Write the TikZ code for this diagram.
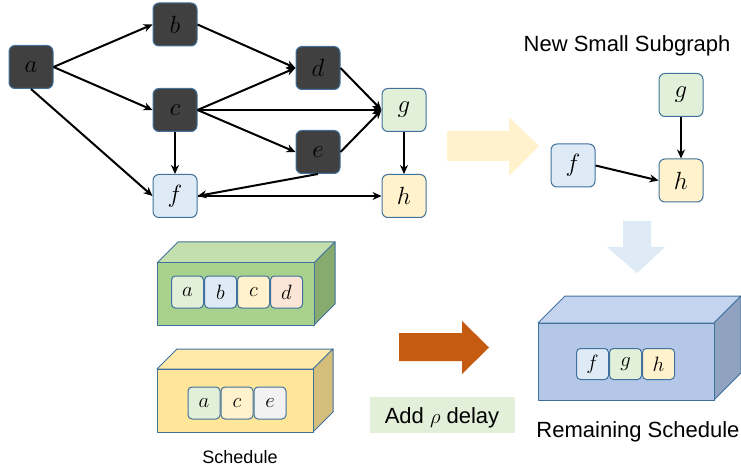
\documentclass[tikz,border=0pt]{standalone}
\usepackage{fontspec}
\setmainfont{Liberation Sans}
\DeclareSymbolFont{letters}{OML}{lmm}{m}{it}
\usetikzlibrary{arrows.meta,positioning}
\definecolor{bord}{HTML}{41719C}
\definecolor{dark}{HTML}{404040}
\definecolor{lblue}{HTML}{DEEBF7}
\definecolor{lgreen}{HTML}{E2F0D9}
\definecolor{lyellow}{HTML}{FFF2CC}
\definecolor{lorange}{HTML}{FBE5D6}
\definecolor{lgray}{HTML}{F2F2F2}
\definecolor{gfront}{HTML}{A9D18E}
\definecolor{gtop}{HTML}{C3DFAE}
\definecolor{gside}{HTML}{87AB6F}
\definecolor{yfront}{HTML}{FFE699}
\definecolor{ytop}{HTML}{FFEAAA}
\definecolor{yside}{HTML}{D4BE7C}
\definecolor{bfront}{HTML}{B4C7E7}
\definecolor{btop}{HTML}{C4D4EE}
\definecolor{bside}{HTML}{8FA2C0}
\definecolor{orarrow}{HTML}{C55A11}
\tikzset{
  gnode/.style={draw=bord, line width=1pt, rounded corners=6pt, minimum width=44pt, minimum height=43pt, inner sep=0pt, font=\fontsize{23}{23}\selectfont},
  darknode/.style={gnode, fill=dark},
  cell/.style={draw=bord, line width=1pt, rounded corners=4pt, minimum width=32pt, minimum height=32pt, inner sep=0pt, font=\fontsize{20}{20}\selectfont},
  edge/.style={line width=2pt, -{Stealth[length=9pt,width=8pt]}},
  boxline/.style={draw=bord, line width=1pt, line join=round},
  biglabel/.style={font=\fontsize{22}{26}\selectfont, inner sep=0pt, anchor=base}
}
\begin{document}
\begin{tikzpicture}[x=1pt,y=-1pt]
\useasboundingbox (0,0) rectangle (741,470);
% main graph
\node[darknode] (a) at (31,67) {$a$};
\node[darknode] (b) at (175,24.5) {$b$};
\node[darknode] (c) at (175,110) {$c$};
\node[darknode] (d) at (318,68) {$d$};
\node[darknode] (e) at (318,152) {$e$};
\node[gnode, fill=lblue] (f) at (175,196) {$f$};
\node[gnode, fill=lgreen] (g) at (404,110) {$g$};
\node[gnode, fill=lyellow] (h) at (404,196) {$h$};
\draw[edge] (a.east) -- (b.west);
\draw[edge] (a.east) -- (c.west);
\draw[edge] (a.south) -- (f.west);
\draw[edge] (b.east) -- (d.west);
\draw[edge] (c.east) -- (d.west);
\draw[edge] (c.east) -- (g.west);
\draw[edge] (c.east) -- (e.west);
\draw[edge] (c.south) -- (f.north);
\draw[edge] (d.east) -- (g.west);
\draw[edge] (e.east) -- (g.west);
\draw[edge] (e.south) -- (f.east);
\draw[edge] (f.east) -- (h.west);
\draw[edge] (g.south) -- (h.north);
% yellow block arrow
\fill[lyellow] (447,131) -- (509,131) -- (509,117) -- (539,146) -- (509,176) -- (509,161) -- (447,161) -- cycle;
% new subgraph
\node[biglabel] (t1) at (627,52) {New Small Subgraph};
\node[gnode, fill=lgreen] (g2) at (681,95) {$g$};
\node[gnode, fill=lblue] (f2) at (573,165.5) {$f$};
\node[gnode, fill=lyellow] (h2) at (681,180.5) {$h$};
\draw[edge] (g2.south) -- (h2.north);
\draw[edge] (f2.east) -- (h2.west);
% blue down arrow
\fill[lblue] (623,221) -- (651,221) -- (651,247) -- (665,247) -- (637,273) -- (607,247) -- (623,247) -- cycle;
% green box
\filldraw[boxline, fill=gtop] (157,263) -- (178,242) -- (335,242) -- (314,263) -- cycle;
\filldraw[boxline, fill=gside] (314,263) -- (335,242) -- (335,304) -- (314,325) -- cycle;
\filldraw[boxline, fill=gfront] (157,263) rectangle (314,325);
\node[cell, fill=lgreen] (ca1) at (187.5,292) {$a$};
\node[cell, fill=lblue, right=0pt of ca1] (cb1) {$b$};
\node[cell, fill=lyellow, right=0pt of cb1] (cc1) {$c$};
\node[cell, fill=lorange, right=0pt of cc1] (cd1) {$d$};
% yellow box
\filldraw[boxline, fill=ytop] (157,369) -- (177,349) -- (333,349) -- (313,369) -- cycle;
\filldraw[boxline, fill=yside] (313,369) -- (333,349) -- (333,412) -- (313,432) -- cycle;
\filldraw[boxline, fill=yfront] (157,369) rectangle (313,432);
\node[cell, fill=lgreen] (ca2) at (204,403) {$a$};
\node[cell, fill=lyellow, right=0pt of ca2] (cc2) {$c$};
\node[cell, fill=lgray, right=0pt of cc2] (ce2) {$e$};
\node[font=\fontsize{18}{22}\selectfont, inner sep=0pt, anchor=base] (t2) at (240,463) {Schedule};
% orange arrow
\fill[orarrow] (399,333) -- (462,333) -- (462,321) -- (489,347.5) -- (462,374) -- (462,361) -- (399,361) -- cycle;
% add delay
\node[fill=lgreen, minimum width=145pt, minimum height=36pt, inner sep=0pt] (dl) at (442.5,415) {};
\node[biglabel] (t3) at (442,423) {Add $\rho$ delay};
% blue box
\filldraw[boxline, fill=btop] (538,323) -- (565,296) -- (741,296) -- (714,323) -- cycle;
\filldraw[boxline, fill=bside] (714,323) -- (741,296) -- (741,373) -- (714,400) -- cycle;
\filldraw[boxline, fill=bfront] (538,323) rectangle (714,400);
\node[cell, fill=lblue, minimum height=31pt] (cf3) at (592.5,364) {$f$};
\node[cell, fill=lgreen, minimum height=31pt, right=0pt of cf3] (cg3) {$g$};
\node[cell, fill=lyellow, minimum height=31pt, right=0pt of cg3] (ch3) {$h$};
\node[biglabel] (t4) at (638,437) {Remaining Schedule};
\end{tikzpicture}
\end{document}
